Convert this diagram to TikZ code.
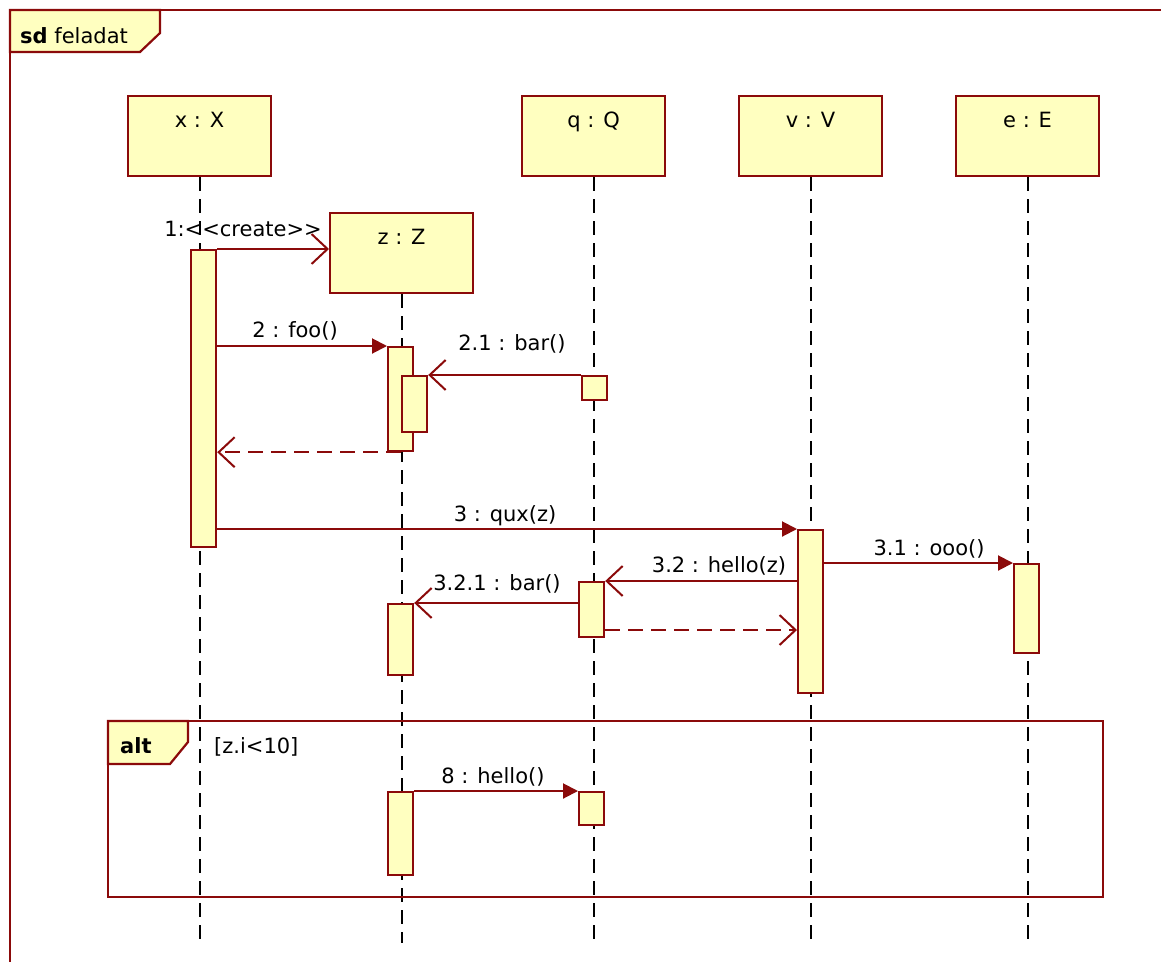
\documentclass[tikz,border=0pt]{standalone}
\usepackage{fontspec}
\setmainfont{DejaVu Sans}
\usetikzlibrary{arrows.meta}
\definecolor{umlred}{HTML}{8B0A0A}
\definecolor{umlfill}{HTML}{FFFFC0}
\begin{document}
\begin{tikzpicture}[x=1pt,y=-1pt,
  every node/.style={font=\fontsize{21}{24}\selectfont},
  obj/.style={draw=umlred, fill=umlfill, line width=2.2pt, minimum width=143pt, minimum height=80pt, anchor=north west, inner sep=0pt},
  act/.style={draw=umlred, fill=umlfill, line width=2.2pt, minimum width=25pt, anchor=north west, inner sep=0pt},
  life/.style={black, line width=2pt, dash pattern=on 14pt off 8pt},
  call/.style={draw=umlred, line width=2pt, -{Triangle[length=15pt,width=15pt]}},
  opencall/.style={draw=umlred, line width=2pt, -{Straight Barb[length=16pt,width=30pt,line width=2pt]}},
  ret/.style={draw=umlred, line width=2pt, dash pattern=on 15pt off 8pt, -{Straight Barb[length=16pt,width=30pt,line width=2pt]}},
  frameline/.style={draw=umlred, line width=2.2pt},
  lbl/.style={anchor=base, inner sep=0pt}]
\useasboundingbox (0,0) rectangle (1161,961);
\fill[white] (0,0) rectangle (1161,961);
\coordinate (end) at (0,943);

% outer frame
\draw[frameline] (10,10) rectangle (1180,980);
\draw[frameline, fill=umlfill] (10,10) -- (160,10) -- (160,33) -- (140,52) -- (10,52) -- cycle;
\node[anchor=base west, inner sep=0pt] (sdl) at (20,43) {\textbf{sd} feladat};

% objects
\node[obj] (X) at (127,95) {};
\node[obj] (Q) at (521,95) {};
\node[obj] (V) at (738,95) {};
\node[obj] (E) at (955,95) {};
\node[obj] (Z) at (329,212) {};
\node[lbl] (Xt) at ([yshift=-32pt]X.north) {x : X};
\node[lbl] (Qt) at ([yshift=-32pt]Q.north) {q : Q};
\node[lbl] (Vt) at ([yshift=-32pt]V.north) {v : V};
\node[lbl] (Et) at ([yshift=-32pt]E.north) {e : E};
\node[lbl] (Zt) at ([yshift=-32pt]Z.north) {z : Z};

% lifelines
\draw[life] (X.south) -- (X.south |- end);
\draw[life] (Q.south) -- (Q.south |- end);
\draw[life] (V.south) -- (V.south |- end);
\draw[life] (E.south) -- (E.south |- end);
\draw[life] (Z.south) -- (Z.south |- end);

% alt frame
\draw[frameline] (108,721) rectangle (1103,897);
\draw[frameline, fill=umlfill] (108,721) -- (188,721) -- (188,742) -- (170,764) -- (108,764) -- cycle;
\node[anchor=base west, inner sep=0pt] (altl) at (120,753) {\textbf{alt}};
\node[anchor=base west, inner sep=0pt] (guard) at (214,753) {[z.i<10]};

% activations
\node[act, minimum height=297pt] (ax1) at (190,249) {};
\node[act, minimum height=104pt] (az1) at (387,346) {};
\node[act, minimum height=56pt] (az2) at (401,375) {};
\node[act, minimum height=24pt] (aq1) at (581,375) {};
\node[act, minimum height=163pt] (av1) at (797,529) {};
\node[act, minimum height=89pt] (ae1) at (1013,563) {};
\node[act, minimum height=55pt] (aq2) at (578,581) {};
\node[act, minimum height=71pt] (az3) at (387,603) {};
\node[act, minimum height=83pt] (az4) at (387,791) {};
\node[act, minimum height=33pt] (aq3) at (578,791) {};
\coordinate (r2) at ([yshift=-49pt]aq2.north east);

% messages
\draw[opencall] (ax1.north east) -- (Z.west |- ax1.north east);
\node[lbl] (m1) at (243,236) {1:<{}<create>{}>};
\draw[call] (ax1.east |- az1.north) -- (az1.north west);
\node[lbl] (m2) at (295,337) {2 : foo()};
\draw[opencall] (aq1.north west) -- (az2.north east);
\node[lbl] (m21) at (512,350) {2.1 : bar()};
\draw[ret] (az1.south) -- (ax1.east |- az1.south);
\draw[call] (ax1.east |- av1.north) -- (av1.north west);
\node[lbl] (m3) at (505,521) {3 : qux(z)};
\draw[call] (av1.east |- ae1.north) -- (ae1.north west);
\node[lbl] (m31) at (929,555) {3.1 : ooo()};
\draw[opencall] (av1.west |- aq2.north) -- (aq2.north east);
\node[lbl] (m32) at (719,572) {3.2 : hello(z)};
\draw[opencall] (aq2.west |- az3.north) -- (az3.north east);
\node[lbl] (m321) at (497,590) {3.2.1 : bar()};
\draw[ret] (r2) -- (av1.west |- r2);
\draw[call] (az4.north east) -- (aq3.north west);
\node[lbl] (m8) at (493,783) {8 : hello()};
\end{tikzpicture}
\end{document}
